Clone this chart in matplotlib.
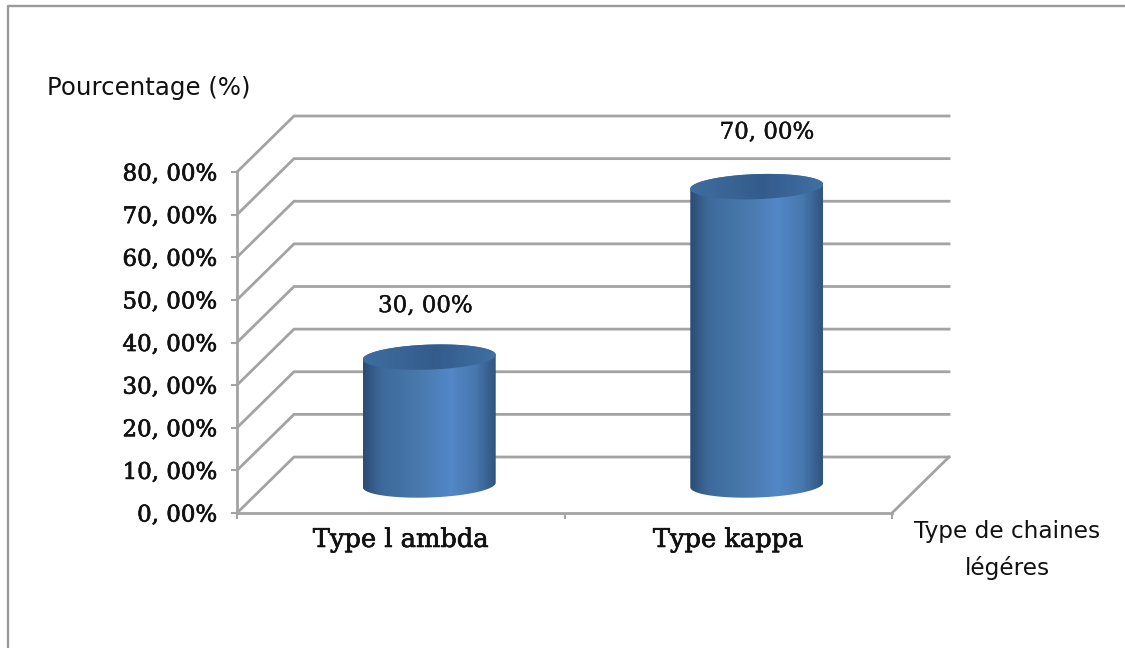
import numpy as np
import matplotlib

matplotlib.use("Agg")
import matplotlib.pyplot as plt
import matplotlib.patheffects as pe
from matplotlib.patches import PathPatch
from matplotlib.path import Path
from matplotlib.colors import LinearSegmentedColormap

categories = ["Type l ambda", "Type kappa"]
values = [30, 70]
value_labels = ["30, 00%", "70, 00%"]
y_ticks = [0, 10, 20, 30, 40, 50, 60, 70, 80]
y_tick_labels = ["0, 00%", "10, 00%", "20, 00%", "30, 00%", "40, 00%",
                 "50, 00%", "60, 00%", "70, 00%", "80, 00%"]

W, H = 1125, 648
GRID = "#a3a3a3"
SERIF = "DejaVu Serif"
INK = "#111111"

# front wall of the 3D box, in figure pixels
LEFT, RIGHT, BOTTOM, TOP = 237, 892, 513, 172
DEPTH_X, DEPTH_Y = 57, 56
RX, RY = 66.5, 12.5
TILT = np.radians(2.0)
LABEL_SHIFT = [(-4, 51), (10, 54)]

body_cmap = LinearSegmentedColormap.from_list(
    "body", [(0, "#2c4c74"), (0.14, "#3d6a9b"), (0.45, "#4a7aaf"), (0.66, "#5287c8"),
             (0.85, "#4777ad"), (1, "#30547f")])
cap_cmap = LinearSegmentedColormap.from_list(
    "cap", [(0, "#3f6d9f"), (0.55, "#335c8c"), (1, "#4070a4")])

fig = plt.figure(figsize=(W / 100, H / 100), dpi=100, facecolor="white")
ax = fig.add_axes([LEFT / W, 1 - BOTTOM / H, (RIGHT - LEFT) / W, (BOTTOM - TOP) / H])
ax.set_xlim(0, 2)
ax.set_ylim(0, 80)
ax.patch.set_visible(False)

sx = (RIGHT - LEFT) / 2
sy = (BOTTOM - TOP) / 80
dx, dy = DEPTH_X / sx, DEPTH_Y / sy
thick = [pe.withStroke(linewidth=0.5, foreground=INK)]
thin = [pe.withStroke(linewidth=0.3, foreground=INK)]

# back wall and side wall lines
for tick in y_ticks:
    ax.plot([0, dx, 2 + dx], [tick, tick + dy, tick + dy], color=GRID, lw=2.0,
            clip_on=False, solid_joinstyle="miter", zorder=1)
ax.plot([2, 2 + dx], [0, dy], color=GRID, lw=2.0, clip_on=False, zorder=1)

for side in ("top", "right"):
    ax.spines[side].set_visible(False)
for side in ("left", "bottom"):
    ax.spines[side].set_color(GRID)
    ax.spines[side].set_linewidth(2.0)

ax.set_yticks(y_ticks, y_tick_labels, fontfamily=SERIF, fontsize=16.5, color=INK)
for tick_label in ax.get_yticklabels():
    tick_label.set_path_effects(thick)
ax.set_xticks([0, 1, 2], ["", "", ""])
ax.tick_params(axis="both", color=GRID, width=1.5, length=4.5)
ax.tick_params(axis="y", pad=10)


def rim(cx, cy, t):
    # point on the tilted ellipse, returned in data units
    ex, ey = RX * np.cos(t), RY * np.sin(t)
    px = ex * np.cos(TILT) - ey * np.sin(TILT)
    py = ex * np.sin(TILT) + ey * np.cos(TILT)
    return cx + px / sx, cy + py / sy


def gradient(path, cmap, x0, x1, y0, y1, z):
    img = ax.imshow(np.linspace(0, 1, 256)[None, :], cmap=cmap, extent=[x0, x1, y0, y1],
                    aspect="auto", zorder=z, clip_on=True)
    patch = PathPatch(path, transform=ax.transData, facecolor="none", edgecolor="none")
    ax.add_patch(patch)
    img.set_clip_path(patch)


for i, (name, value, label) in enumerate(zip(categories, values, value_labels)):
    cx = i + 0.5 + (DEPTH_X / 2) / sx
    base = (DEPTH_Y / 2) / sy
    top = base + value

    # body: lower half of base ellipse, then upper rim side
    t_low = np.linspace(np.pi, 2 * np.pi, 60)
    t_up = np.linspace(0, np.pi, 60)
    bx, by = rim(cx, base, t_low)
    tx, ty = rim(cx, top, t_up)
    verts = np.column_stack([np.r_[bx, tx], np.r_[by, ty]])
    body = Path(np.vstack([verts, verts[0]]), closed=False)
    gradient(body, body_cmap, cx - RX / sx, cx + RX / sx, base - 4, top + 4, 3)

    # top cap
    t_all = np.linspace(0, 2 * np.pi, 120)
    cpx, cpy = rim(cx, top, t_all)
    cap = Path(np.column_stack([cpx, cpy]))
    gradient(cap, cap_cmap, cx - RX / sx, cx + RX / sx, top - 4, top + 4, 4)

    shift_x, shift_y = LABEL_SHIFT[i]
    ax.text(cx + shift_x / sx, top + shift_y / sy, label, ha="center", va="center",
            fontfamily=SERIF, fontsize=16.5, color=INK, clip_on=False, path_effects=thin)
    ax.text(i + 0.5, -6.2, name, ha="center", va="center", fontfamily=SERIF, fontsize=18.5,
            color=INK, clip_on=False, path_effects=thick)

ax.set_xlim(0, 2)
ax.set_ylim(0, 80)

fig.text(47 / W, 1 - 88 / H, "Pourcentage (%)", fontfamily="DejaVu Sans", fontsize=17.6,
         va="center", ha="left", color=INK)
fig.text(1007 / W, 1 - 550 / H, "Type de chaines\nlégéres", fontfamily="DejaVu Sans", fontsize=16.7,
         va="center", ha="center", linespacing=1.7, color=INK)

# outer chart frame
fig.add_artist(plt.Line2D([8 / W, 8 / W, 1], [0, 1 - 6 / H, 1 - 6 / H], color="#9a9a9a", lw=1.7,
                          transform=fig.transFigure))

fig.savefig("out.png", dpi=100, facecolor="white")
